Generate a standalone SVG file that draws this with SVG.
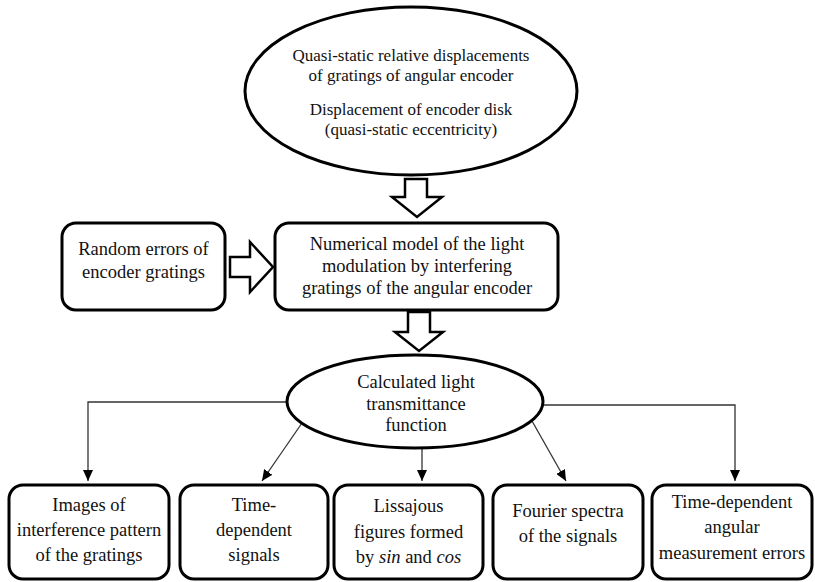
<svg xmlns="http://www.w3.org/2000/svg" width="815" height="582" viewBox="0 0 815 582">
<defs>
<style>
.node{fill:#fff;stroke:#000;stroke-width:3}
.hollow{fill:#fff;stroke:#000;stroke-width:2.5;stroke-linejoin:miter}
.t1{font-family:"Liberation Serif","Times New Roman",serif;font-size:17px;fill:#111;text-anchor:middle}
.t{font-family:"Liberation Serif","Times New Roman",serif;font-size:18.5px;fill:#111;text-anchor:middle}
.conn{fill:none;stroke:#333;stroke-width:1.3}
</style>
<marker id="ah" markerUnits="userSpaceOnUse" markerWidth="12" markerHeight="10" refX="11" refY="5" orient="auto">
<path d="M0,0 L11,5 L0,10 Z" fill="#000"/>
</marker>
</defs>
<rect width="815" height="582" fill="#fff"/>

<g id="connectors">
<polygon class="hollow" points="405,179 427,179 427,197 442,197 417,217 392,197 405,197"/>
<polygon class="hollow" points="230,257 250,257 250,242 273,267 250,292 250,277 230,277"/>
<polygon class="hollow" points="408,312 430,312 430,332 443,332 419,351 395,332 408,332"/>
<path class="conn" d="M287,402 H88 V481" marker-end="url(#ah)"/>
<path class="conn" d="M302,423 L262,481" marker-end="url(#ah)"/>
<path class="conn" d="M422,448 V481" marker-end="url(#ah)"/>
<path class="conn" d="M532,421 L566,481" marker-end="url(#ah)"/>
<path class="conn" d="M543,405 H735 V481" marker-end="url(#ah)"/>
</g>

<g id="n_displacements">
<ellipse class="node" cx="411" cy="91" rx="166" ry="84"/>
<text class="t1" x="411" y="61">Quasi-static relative displacements</text>
<text class="t1" x="411" y="81">of gratings of angular encoder</text>
<text class="t1" x="411" y="115">Displacement of encoder disk</text>
<text class="t1" x="411" y="135">(quasi-static eccentricity)</text>
</g>

<g id="n_random">
<rect class="node" x="62" y="223" width="163" height="87" rx="14"/>
<text class="t" x="143.5" y="255">Random errors of</text>
<text class="t" x="143.5" y="278">encoder gratings</text>
</g>

<g id="n_model">
<rect class="node" x="275" y="223" width="283" height="87" rx="14"/>
<text class="t" x="417" y="250">Numerical model of the light</text>
<text class="t" x="417" y="272">modulation by interfering</text>
<text class="t" x="417" y="294">gratings of the angular encoder</text>
</g>

<g id="n_transmittance">
<ellipse class="node" cx="415" cy="401.5" rx="128" ry="46.5"/>
<text class="t" x="416" y="388">Calculated light</text>
<text class="t" x="416" y="410">transmittance</text>
<text class="t" x="416" y="431">function</text>
</g>

<g id="n_images">
<rect class="node" x="9" y="485" width="160" height="94" rx="14"/>
<text class="t" x="89" y="511">Images of</text>
<text class="t" x="89" y="536">interference pattern</text>
<text class="t" x="89" y="561">of the gratings</text>
</g>

<g id="n_signals">
<rect class="node" x="180" y="485" width="148" height="94" rx="14"/>
<text class="t" x="254" y="511">Time-</text>
<text class="t" x="254" y="536">dependent</text>
<text class="t" x="254" y="561">signals</text>
</g>

<g id="n_lissajous">
<rect class="node" x="334" y="485" width="149" height="94" rx="14"/>
<text class="t" x="408.5" y="512">Lissajous</text>
<text class="t" x="408.5" y="538">figures formed</text>
<text class="t" x="408.5" y="563">by <tspan font-style="italic">sin</tspan> and <tspan font-style="italic">cos</tspan></text>
</g>

<g id="n_fourier">
<rect class="node" x="493" y="485" width="150" height="94" rx="14"/>
<text class="t" x="568" y="517">Fourier spectra</text>
<text class="t" x="568" y="542">of the signals</text>
</g>

<g id="n_errors">
<rect class="node" x="652" y="485" width="160" height="94" rx="14"/>
<text class="t" x="732" y="508">Time-dependent</text>
<text class="t" x="732" y="533">angular</text>
<text class="t" x="732" y="559">measurement errors</text>
</g>
</svg>
